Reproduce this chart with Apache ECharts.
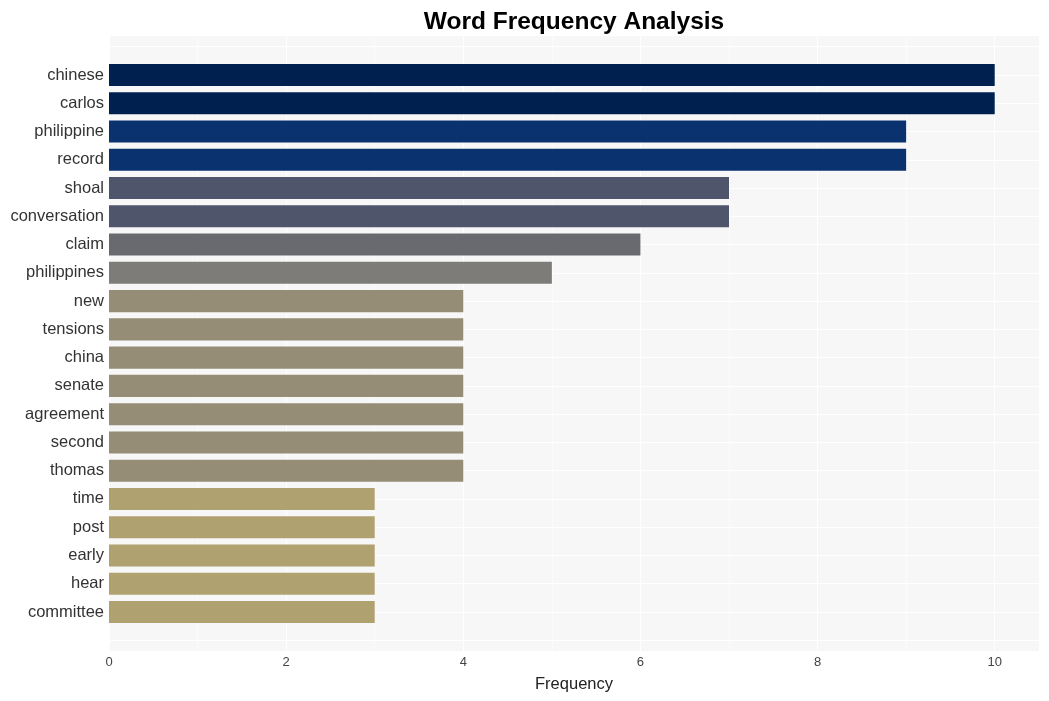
<!DOCTYPE html>
<html>
<head>
<meta charset="utf-8">
<script src="https://cdn.jsdelivr.net/npm/echarts@6/dist/echarts.min.js"></script>
<style>html,body{margin:0;padding:0;background:#fff;}#c{width:1049px;height:701px;}</style>
</head>
<body>
<div id="c"></div>
<script>
var categories = ["chinese","carlos","philippine","record","shoal","conversation","claim","philippines","new","tensions","china","senate","agreement","second","thomas","time","post","early","hear","committee"];
var values = [10,10,9,9,7,7,6,5,4,4,4,4,4,4,4,3,3,3,3,3];
var barColors = ["#00204f","#00204f","#09326f","#09326f","#4f566b","#4f566b","#696a70","#7d7c78","#958d76","#958d76","#958d76","#958d76","#958d76","#958d76","#958d76","#b0a270","#b0a270","#b0a270","#b0a270","#b0a270"];
var xTicks = [0,2,4,6,8,10];

var W = 1049, H = 701;
var plotLeft = 109, plotRight = 1039, plotTop = 36, plotBottom = 651;
var n = categories.length;
var expand = 1.38; // category-units of padding on each side
var band = (plotBottom - plotTop) / (n - 1 + 2 * expand);
var barTop = plotTop + (expand - 0.5) * band;
var barBottom = plotBottom - (expand - 0.5) * band;
var FONT = 'Liberation Sans, Arial, sans-serif';

var chart = echarts.init(document.getElementById('c'), null, {renderer: 'canvas'});
chart.setOption({
  animation: false,
  backgroundColor: '#ffffff',
  title: {
    text: 'Word Frequency Analysis',
    left: 569,
    textAlign: 'center',
    top: 5,
    textStyle: {fontFamily: FONT, fontSize: 24.5, fontWeight: 'bold', color: '#000'}
  },
  grid: [
    {left: plotLeft, right: W - plotRight, top: plotTop, bottom: H - plotBottom, show: true, backgroundColor: '#f7f7f7', borderWidth: 0, containLabel: false},
    {left: plotLeft, right: W - plotRight, top: barTop, bottom: H - barBottom, show: false, containLabel: false}
  ],
  xAxis: [
    {
      gridIndex: 0, type: 'value', min: 0, max: 10.5, interval: 2,
      axisLine: {show: false}, axisTick: {show: false},
      axisLabel: {show: true, fontFamily: FONT, fontSize: 13, color: '#444', margin: 5, showMaxLabel: false,
        formatter: function (v) { return xTicks.indexOf(v) >= 0 ? String(v) : ''; }},
      splitLine: {show: true, showMaxLine: false, lineStyle: {color: '#ffffff', width: 1.2}},
      minorTick: {show: false, splitNumber: 2},
      minorSplitLine: {show: true, lineStyle: {color: '#fbfbfb', width: 0.8}},
      name: 'Frequency', nameLocation: 'middle', nameGap: 25,
      nameTextStyle: {fontFamily: FONT, fontSize: 16.5, color: '#222'}
    },
    {
      gridIndex: 1, type: 'value', min: 0, max: 10.5,
      show: false, splitLine: {show: false}
    }
  ],
  yAxis: [
    {
      gridIndex: 0, type: 'value', inverse: true,
      min: -expand, max: n - 1 + expand, minInterval: 1, maxInterval: 1,
      axisLine: {show: false}, axisTick: {show: false}, axisLabel: {show: false},
      splitLine: {show: true, showMinLine: false, showMaxLine: false, lineStyle: {color: '#ffffff', width: 1.2}}
    },
    {
      gridIndex: 1, type: 'category', data: categories, inverse: true,
      axisLine: {show: false}, axisTick: {show: false},
      splitLine: {show: false},
      axisLabel: {fontFamily: FONT, fontSize: 16.5, color: '#333', margin: 5, padding: [6, 0, 0, 0]}
    }
  ],
  series: [{
    type: 'bar',
    xAxisIndex: 1, yAxisIndex: 1,
    barCategoryGap: '22%',
    data: values.map(function (v, i) { return {value: v, itemStyle: {color: barColors[i]}}; }),
    z: 3
  }]
});
</script>
</body>
</html>
